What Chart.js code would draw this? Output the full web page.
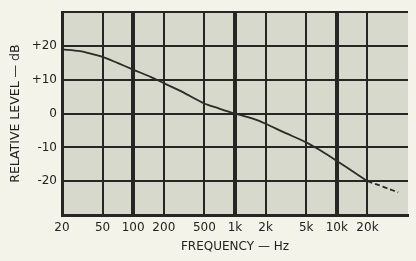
<!DOCTYPE html>
<html>
<head>
<meta charset="utf-8">
<script src="https://cdn.jsdelivr.net/npm/chart.js@4"></script>
<style>
  html, body { margin: 0; padding: 0; background: #f3f3ea; }
  #wrap { width: 416px; height: 261px; }
</style>
</head>
<body>
<div id="wrap"><canvas id="myChart"></canvas></div>
<script>
// response curve
const freqs  = [20, 30, 40, 50, 70, 100, 150, 200, 300, 500, 700, 1000, 1500, 2000, 3000, 5000, 7000, 10000, 15000, 20000];
const levels = [19, 18.5, 17.6, 16.8, 15, 13, 10.8, 9, 6.5, 3, 1.5, 0, -1.5, -3, -5.5, -8.5, -11, -14, -17.5, -20];
// dashed tail beyond 20k
const tailFreqs  = [20000, 25000, 32000, 40000];
const tailLevels = [-20, -21, -22.2, -23.3];

const xTicks = [20, 50, 100, 200, 500, 1000, 2000, 5000, 10000, 20000, 50000];
const xTickLabels = ['20', '50', '100', '200', '500', '1k', '2k', '5k', '10k', '20k', ''];
const heavyLines = [100, 1000, 10000];

const toPoints = (xs, ys) => xs.map((f, i) => ({ x: f, y: ys[i] }));

const plotBg = {
  id: 'plotBg',
  beforeDraw(chart) {
    const { ctx, chartArea: a } = chart;
    ctx.save();
    ctx.fillStyle = '#d7d9cd';
    ctx.fillRect(a.left, a.top, a.right - a.left, a.bottom - a.top);
    ctx.restore();
  }
};

const ctx = document.getElementById('myChart');
new Chart(ctx, {
  type: 'line',
  data: {
    datasets: [{
      data: toPoints(freqs, levels),
      borderColor: '#2b2b28',
      borderWidth: 1.8,
      pointRadius: 0,
      tension: 0.3
    }, {
      data: toPoints(tailFreqs, tailLevels),
      borderColor: '#2b2b28',
      borderWidth: 1.8,
      borderDash: [5, 3],
      pointRadius: 0,
      tension: 0.2
    }]
  },
  options: {
    responsive: true,
    maintainAspectRatio: false,
    animation: false,
    layout: { padding: { left: 0, right: 8, top: 11, bottom: 0 } },
    plugins: {
      legend: { display: false },
      tooltip: { enabled: false }
    },
    scales: {
      x: {
        type: 'logarithmic',
        min: 20,
        max: 50000,
        afterBuildTicks: (scale) => { scale.ticks = xTicks.map(v => ({ value: v })); },
        afterFit: (scale) => { scale.height = 46; },
        ticks: {
          autoSkip: false,
          maxRotation: 0,
          color: '#222',
          font: { family: 'DejaVu Sans', size: 12 },
          padding: 6,
          callback: (v, i) => xTickLabels[i]
        },
        grid: {
          color: '#262624',
          lineWidth: (c) => {
            const v = c.tick && c.tick.value;
            if (v === 50000) return 0;
            return heavyLines.includes(v) ? 4 : 2;
          },
          drawTicks: false
        },
        border: { display: true, color: '#262624', width: 3 },
        title: {
          display: true,
          text: 'FREQUENCY — Hz',
          color: '#222',
          font: { family: 'DejaVu Sans', size: 12 },
          padding: { top: 0, bottom: 7 }
        }
      },
      y: {
        min: -30,
        max: 30,
        afterFit: (scale) => { scale.width = 62; },
        ticks: {
          stepSize: 10,
          color: '#222',
          font: { family: 'DejaVu Sans', size: 12 },
          padding: 5,
          callback: (v) => (v === 30 || v === -30) ? '' : (v > 0 ? '+' + v : String(v))
        },
        grid: {
          color: '#262624',
          lineWidth: 2,
          drawTicks: false
        },
        border: { display: true, color: '#262624', width: 3 },
        title: {
          display: true,
          text: 'RELATIVE LEVEL — dB',
          color: '#222',
          font: { family: 'DejaVu Sans', size: 12.5 },
          padding: { top: 8, bottom: 0 }
        }
      }
    }
  },
  plugins: [plotBg]
});
</script>
</body>
</html>
